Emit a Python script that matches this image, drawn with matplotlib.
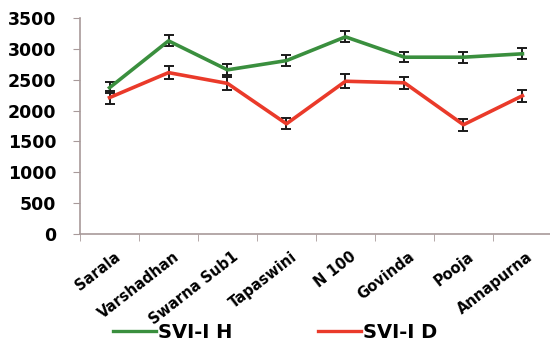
import matplotlib.pyplot as plt
import matplotlib.transforms as mtransforms
import numpy as np

# varieties and seedling vigour index values
varieties = ['Sarala', 'Varshadhan', 'Swarna Sub1', 'Tapaswini', 'N 100',
             'Govinda', 'Pooja', 'Annapurna']
svi_h = [2370, 3130, 2660, 2810, 3195, 2865, 2865, 2920]
svi_h_err = [90, 90, 90, 90, 90, 80, 90, 90]
svi_d = [2210, 2615, 2440, 1785, 2475, 2450, 1770, 2240]
svi_d_err = [110, 100, 110, 90, 110, 100, 100, 100]

fig = plt.figure(figsize=(5.5, 3.47), dpi=100)
ax = fig.add_axes([0.1455, 0.326, 0.858, 0.622])

x = np.arange(len(varieties))
ax.errorbar(x, svi_h, yerr=svi_h_err, color='#3a8f3e', linewidth=2.6,
            ecolor='#1a1a1a', elinewidth=1.4, capsize=3.5, capthick=1.4,
            label='SVI-I H', zorder=3)
ax.errorbar(x, svi_d, yerr=svi_d_err, color='#ea3a2a', linewidth=2.6,
            ecolor='#1a1a1a', elinewidth=1.4, capsize=3.5, capthick=1.4,
            label='SVI-I D', zorder=3)

ax.set_xlim(-0.5, len(varieties) - 0.5)
ax.set_ylim(0, 3500)
ax.set_yticks(np.arange(0, 3501, 500))
ax.set_xticks(x)
ax.set_xticklabels(varieties, rotation=38, ha='right', rotation_mode='anchor',
                   fontweight='bold', fontsize=10.5)
ax.set_xticks(np.arange(-0.5, len(varieties), 1), minor=True)
ax.tick_params(axis='x', which='major', length=0, pad=11)
ax.tick_params(axis='x', which='minor', length=5, color='#a89a9a', direction='out')
ax.tick_params(axis='y', length=5, color='#a89a9a', pad=12)
shift = mtransforms.ScaledTranslation(4 / 100, 0, fig.dpi_scale_trans)
for lab in ax.get_xticklabels():
    lab.set_transform(lab.get_transform() + shift)
for lab in ax.get_yticklabels():
    lab.set_fontweight('bold')
    lab.set_fontsize(12.5)

for s in ['top', 'right']:
    ax.spines[s].set_visible(False)
for s in ['left', 'bottom']:
    ax.spines[s].set_color('#a89a9a')
    ax.spines[s].set_linewidth(1.2)

handles = [plt.Line2D([], [], color='#3a8f3e', lw=2.4),
           plt.Line2D([], [], color='#ea3a2a', lw=2.4)]
fig.legend(handles, ['SVI-I H', 'SVI-I D'], loc='center', ncol=2,
           bbox_to_anchor=(0.5, 0.042), frameon=False, handlelength=2.2,
           handletextpad=0.1, columnspacing=4.4,
           prop={'weight': 'bold', 'size': 14})

plt.savefig('out.png')
